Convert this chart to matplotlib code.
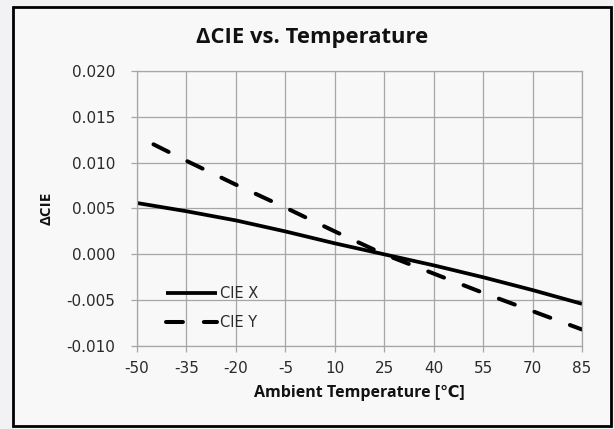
import matplotlib
matplotlib.use('Agg')
from matplotlib import pyplot as plt
from matplotlib.patches import Rectangle

# 数据
temps_x = [-50, -35, -20, -5, 10, 25, 40, 55, 70, 85]
cie_x = [0.0056, 0.0047, 0.0037, 0.0025, 0.0012, 0.0000, -0.0012, -0.0025, -0.0039, -0.0054]
temps_y = [-45, -35, -20, -5, 10, 25, 40, 55, 70, 85]
cie_y = [0.0120, 0.0102, 0.0076, 0.0051, 0.0025, 0.0000, -0.0021, -0.0042, -0.0062, -0.0082]
xticks = [-50, -35, -20, -5, 10, 25, 40, 55, 70, 85]
yticks = [-0.010, -0.005, 0.000, 0.005, 0.010, 0.015, 0.020]

outerColor = '#f2f2f4'
innerColor = '#f8f8f8'
gridColor = '#a6a6a6'
textColor = '#2a2a2a'
boldFont = ['Open Sans', 'DejaVu Sans']

plt.rcParams['axes.unicode_minus'] = False

fig = plt.figure(figsize=(6.14, 4.29), dpi=100)
fig.patch.set_facecolor(outerColor)
# 图表外框
fig.patches.append(Rectangle((12.5 / 614, 1 - 425.5 / 429), 598.5 / 614, 419 / 429,
                             transform=fig.transFigure, facecolor=innerColor,
                             edgecolor='#000000', linewidth=2.0, zorder=-10))

ax = fig.add_axes([137 / 614, 1 - 346 / 429, 445 / 614, 275 / 429])
ax.set_facecolor(innerColor)

ax.plot(temps_x, cie_x, color='#000000', linewidth=2.7, label='CIE X',
        solid_capstyle='butt')
ax.plot(temps_y, cie_y, color='#000000', linewidth=2.9, label='CIE Y',
        linestyle=(0, (4.2, 5.2)), dash_capstyle='round')

ax.set_xlim(-50, 85)
ax.set_ylim(-0.010, 0.020)
ax.set_xticks(xticks)
ax.set_xticklabels([str(v) for v in xticks])
ax.set_yticks(yticks)
ax.set_yticklabels(['%.3f' % v for v in yticks])
ax.grid(True, color=gridColor, linewidth=0.9)
ax.set_axisbelow(True)
for sp in ax.spines.values():
    sp.set_color(gridColor)
    sp.set_linewidth(0.9)
ax.tick_params(axis='both', colors=gridColor, length=4.5, width=0.9,
               labelcolor=textColor, labelsize=11)
ax.tick_params(axis='x', pad=6)
ax.tick_params(axis='y', pad=11)

fig.text(312 / 614, 1 - 43 / 429, 'ΔCIE vs. Temperature', fontsize=15.8,
         fontweight='bold', family=boldFont, ha='center', va='baseline',
         color='#111111')
ax.set_xlabel('Ambient Temperature [℃]', fontsize=11.5, fontweight='bold',
              family=boldFont, labelpad=6.5, color='#111111')
ax.set_ylabel('ΔCIE', fontsize=11, fontweight='bold', family=boldFont,
              labelpad=9, color='#111111')

leg = ax.legend(loc='lower left', bbox_to_anchor=(0.035, 0.01), frameon=False,
                handlelength=3.5, handletextpad=0.2, labelspacing=0.95,
                fontsize=10.5)
for t in leg.get_texts():
    t.set_color(textColor)

fig.savefig('out.png', dpi=100, facecolor=outerColor)
